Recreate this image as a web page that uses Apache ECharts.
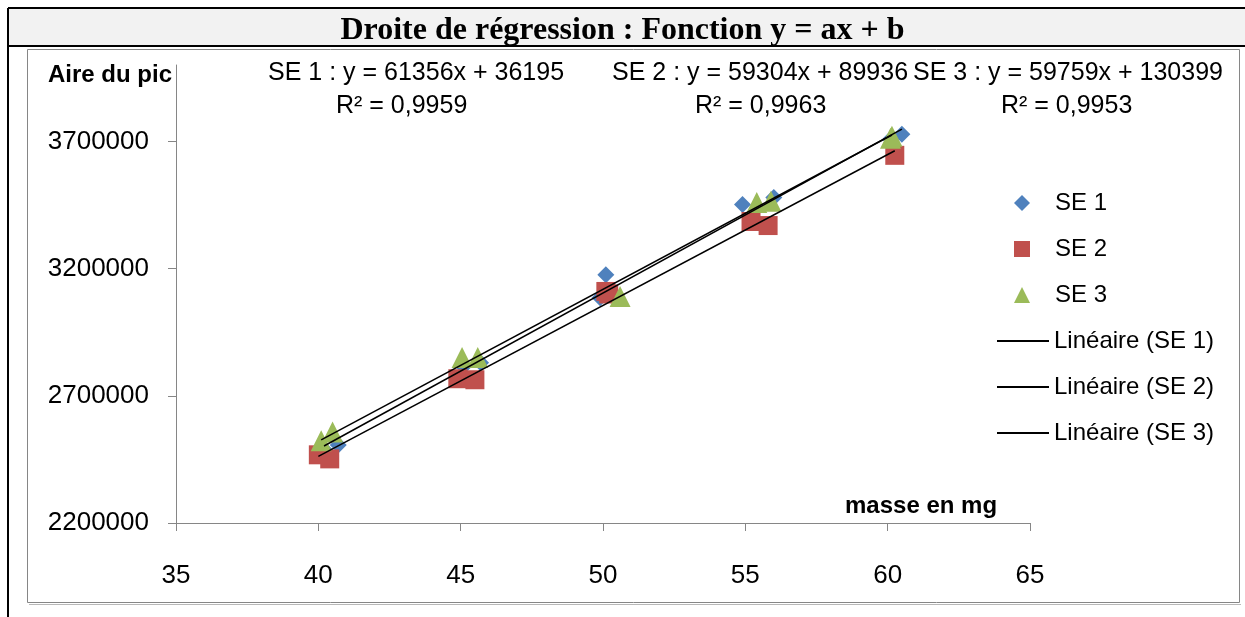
<!DOCTYPE html>
<html lang="fr">
<head>
    <meta charset="UTF-8">
    <title>Droite de régression</title>
    <script type="text/javascript" src="https://cdn.jsdelivr.net/npm/echarts@6/dist/echarts.min.js"></script>
    <style>
        html, body {
            width: 100%;
            height: 100%;
            margin: 0;
            padding: 0;
            background: #fff;
        }
        #main {
            width: 1245px;
            height: 617px;
        }
    </style>
</head>
<body>
    <div id="main"></div>
    <script>
        // masses (mg) et aires
        var se1X = [40.2, 40.7, 45.1, 45.7, 49.9, 50.1, 54.9, 56.0, 60.1, 60.5];
        var se1Y = [2490000, 2507000, 2815000, 2830000, 3085000, 3176000, 3452000, 3479000, 3708000, 3728000];
        var se2X = [40.0, 40.4, 44.9, 45.5, 50.1, 50.2, 55.2, 55.8, 60.25];
        var se2Y = [2468000, 2452000, 2767000, 2763000, 3110000, 3100000, 3385000, 3369000, 3645000];
        var se3X = [40.1, 40.5, 45.05, 45.6, 50.6, 55.4, 55.9, 60.1, 60.15];
        var se3Y = [2523000, 2558000, 2850000, 2850000, 3090000, 3460000, 3465000, 3712000, 3720000];

        // coefficients des droites (y = ax + b)
        var slopes = [61356, 59304, 59759];
        var intercepts = [36195, 89936, 130399];
        var eqLabels = ['SE 1 : y = 61356x + 36195', 'SE 2 : y = 59304x + 89936', 'SE 3 : y = 59759x + 130399'];
        var r2Labels = ['R² = 0,9959', 'R² = 0,9963', 'R² = 0,9953'];

        var seriesNames = ['SE 1', 'SE 2', 'SE 3'];
        var trendNames = seriesNames.map(function (n) { return 'Linéaire (' + n + ')'; });
        var colors = ['#4F81BD', '#C0504D', '#9BBB59'];
        var symbols = ['diamond', 'rect', 'triangle'];
        var symbolSizes = [17, 19, 21];

        var xs = [se1X, se2X, se3X];
        var ys = [se1Y, se2Y, se3Y];

        var font = 'Liberation Sans';
        var myChart = echarts.init(document.getElementById('main'));

        var series = [];
        for (var i = 0; i < 3; i++) {
            series.push({
                name: seriesNames[i],
                type: 'scatter',
                symbol: symbols[i],
                symbolSize: symbolSizes[i],
                itemStyle: { color: colors[i], opacity: 1 },
                data: xs[i].map(function (x, k) { return [x, ys[i][k]]; }),
                z: 2 + i
            });
        }
        for (var j = 0; j < 3; j++) {
            var lo = Math.min.apply(null, xs[j]);
            var hi = Math.max.apply(null, xs[j]);
            series.push({
                name: trendNames[j],
                type: 'line',
                symbol: 'none',
                color: '#000',
                lineStyle: { color: '#000', width: 1.5 },
                data: [[lo, slopes[j] * lo + intercepts[j]], [hi, slopes[j] * hi + intercepts[j]]],
                z: 6
            });
        }

        var legendText = { fontSize: 24, color: '#000', fontFamily: font };

        var option = {
            backgroundColor: '#fff',
            animation: false,
            textStyle: { fontFamily: font },
            grid: { left: 176, right: 215, top: 65, bottom: 94 },
            xAxis: {
                type: 'value',
                min: 35, max: 65, interval: 5,
                axisLine: { show: true, onZero: false, lineStyle: { color: '#868686' } },
                axisTick: { show: true, length: 8, lineStyle: { color: '#868686' } },
                axisLabel: { color: '#000', fontSize: 26, margin: 40, fontFamily: font },
                splitLine: { show: false }
            },
            yAxis: {
                type: 'value',
                min: 2200000, max: 4000000, interval: 500000,
                axisLine: { show: true, onZero: false, lineStyle: { color: '#868686' } },
                axisTick: { show: true, length: 8, lineStyle: { color: '#868686' } },
                axisLabel: {
                    color: '#000', fontSize: 26, margin: 27, showMaxLabel: false, fontFamily: font,
                    formatter: function (v) { return String(v); }
                },
                splitLine: { show: false }
            },
            legend: [
                {
                    orient: 'vertical',
                    left: 1014, top: 191, padding: 0,
                    itemWidth: 16, itemHeight: 16, itemGap: 22,
                    textStyle: Object.assign({ padding: [0, 0, 0, 20] }, legendText),
                    data: seriesNames
                },
                {
                    orient: 'vertical',
                    left: 997, top: 329, padding: 0,
                    itemWidth: 52, itemHeight: 2, itemGap: 22,
                    icon: 'rect',
                    textStyle: legendText,
                    data: trendNames
                }
            ],
            graphic: [
                // cadre du tableau
                { type: 'rect', shape: { x: 8, y: 8, width: 1245, height: 38 }, style: { fill: '#f2f2f2', stroke: null }, z: -10 },
                { type: 'line', shape: { x1: 8, y1: 8, x2: 1245, y2: 8 }, style: { stroke: '#000', lineWidth: 2 } },
                { type: 'line', shape: { x1: 8, y1: 46, x2: 1245, y2: 46 }, style: { stroke: '#000', lineWidth: 2 } },
                { type: 'line', shape: { x1: 8, y1: 8, x2: 8, y2: 617 }, style: { stroke: '#000', lineWidth: 2 } },
                { type: 'rect', shape: { x: 27.5, y: 49.5, width: 1212, height: 553 }, style: { fill: null, stroke: '#868686', lineWidth: 1 } },
                { type: 'line', shape: { x1: 29, y1: 604.5, x2: 1241, y2: 604.5 }, style: { stroke: '#b8b8b8', lineWidth: 1 } },
                {
                    type: 'text', left: 'center', top: 15,
                    style: { text: 'Droite de régression : Fonction y = ax + b', font: 'bold 32px "Liberation Serif"', fill: '#000' }
                },
                { type: 'text', left: 48, top: 63, style: { text: 'Aire du pic', font: 'bold 24px "Liberation Sans"', fill: '#000' } },
                { type: 'text', left: 845, top: 494, style: { text: 'masse en mg', font: 'bold 24px "Liberation Sans"', fill: '#000' } },
                { type: 'text', left: 268, top: 61, style: { text: eqLabels[0], font: '25px "Liberation Sans"', fill: '#000' } },
                { type: 'text', left: 612, top: 61, style: { text: eqLabels[1], font: '25px "Liberation Sans"', fill: '#000' } },
                { type: 'text', left: 913, top: 61, style: { text: eqLabels[2], font: '25px "Liberation Sans"', fill: '#000' } },
                { type: 'text', left: 336, top: 94, style: { text: r2Labels[0], font: '25px "Liberation Sans"', fill: '#000' } },
                { type: 'text', left: 695, top: 94, style: { text: r2Labels[1], font: '25px "Liberation Sans"', fill: '#000' } },
                { type: 'text', left: 1001, top: 94, style: { text: r2Labels[2], font: '25px "Liberation Sans"', fill: '#000' } }
            ],
            series: series
        };
        myChart.setOption(option);

        window.addEventListener('resize', function () {
            myChart.resize();
        });
    </script>
</body>
</html>
